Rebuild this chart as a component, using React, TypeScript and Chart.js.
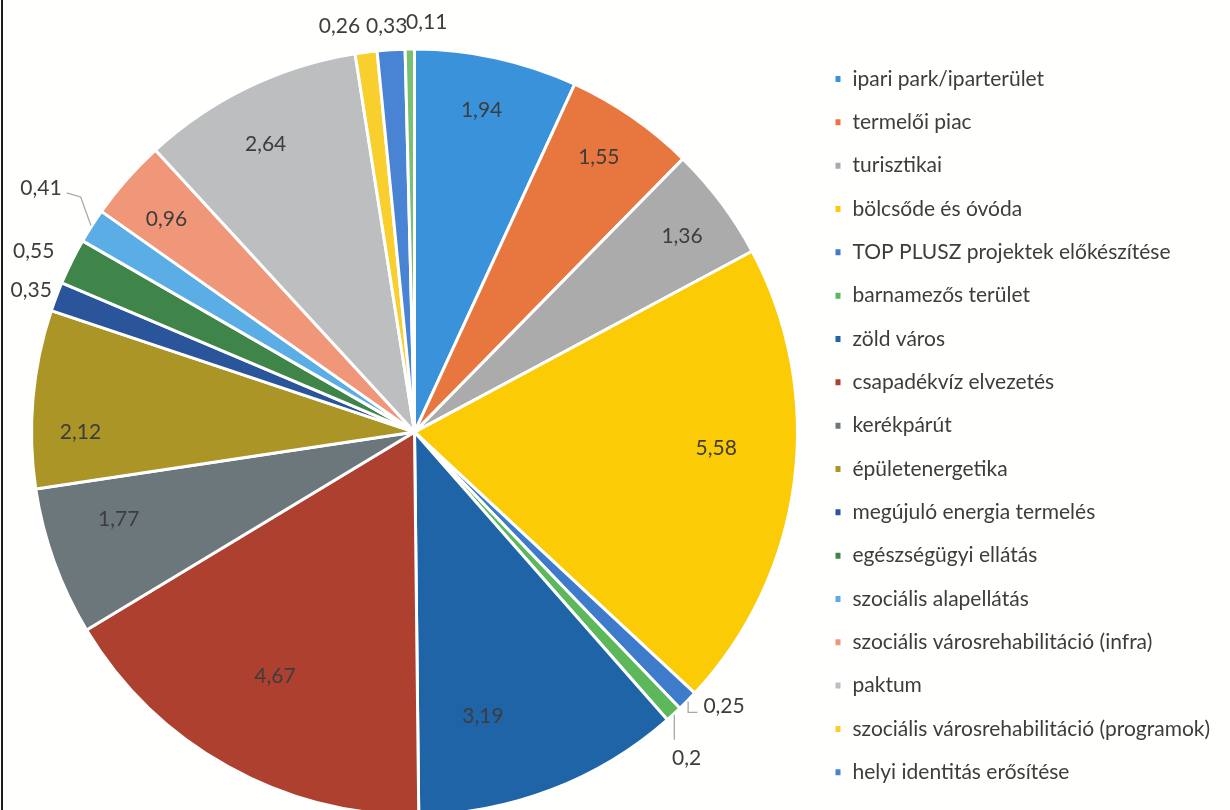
import React, { useEffect, useRef } from 'react';
import { Chart, registerables } from 'chart.js';

Chart.register(...registerables);

// ---------- data ----------
const categories: string[] = [
  'ipari park/iparterület',
  'termelői piac',
  'turisztikai',
  'bölcsőde és óvóda',
  'TOP PLUSZ projektek előkészítése',
  'barnamezős terület',
  'zöld város',
  'csapadékvíz elvezetés',
  'kerékpárút',
  'épületenergetika',
  'megújuló energia termelés',
  'egészségügyi ellátás',
  'szociális alapellátás',
  'szociális városrehabilitáció (infra)',
  'paktum',
  'szociális városrehabilitáció (programok)',
  'helyi identitás erősítése',
  'egyéb',
];

const values: number[] = [
  1.94, 1.55, 1.36, 5.58, 0.25, 0.2, 3.19, 4.67, 1.77, 2.12, 0.35, 0.55, 0.41, 0.96, 2.64, 0.26, 0.33, 0.11,
];

const colors: string[] = [
  '#3A93DA', '#E8773F', '#ABABAB', '#FBCB05', '#3F7BCB', '#5DB85C', '#1E64A6', '#AE4030', '#6C777C',
  '#AA9526', '#2B559A', '#3F8448', '#5AADE5', '#F0977A', '#BDBEC0', '#F9CF2E', '#4884D3', '#79C072',
];

// number of legend entries that fit on the page (the last one lies below the cropped edge)
const LEGEND_ITEMS = 17;

// ---------- label placement, relative to each slice (radius factor, angle shift in degrees) ----------
type Lay = { r: number; da: number; leader?: 'left' | 'right' | 'down' };
const labelLayout: Lay[] = [
  { r: 0.859, da: -0.6 },
  { r: 0.865, da: -0.8 },
  { r: 0.865, da: 0.7 },
  { r: 0.789, da: -4.4 },
  { r: 1.08, da: -3, leader: 'right' },
  { r: 1.108, da: 2.7, leader: 'down' },
  { r: 0.762, da: 7.4 },
  { r: 0.735, da: 0.6 },
  { r: 0.805, da: 3.4 },
  { r: 0.872, da: -5 },
  { r: 1.067, da: -0.4 },
  { r: 1.1, da: -1.1 },
  { r: 1.165, da: 0.6, leader: 'left' },
  { r: 0.853, da: -0.7 },
  { r: 0.846, da: -1.6 },
  { r: 1.078, da: -3.2 },
  { r: 1.063, da: -0.4 },
  { r: 1.071, da: 2.4 },
];

// ---------- layout constants ----------
const W = 1230;
const H = 818;
const PIE_CX = 414.5;
const PIE_RADIUS = 383;
const LEGEND_FONT = 21;
const LEGEND_PAD = 22.33;
const LEGEND_BOX_X = 834;
const LEGEND_BOX_W = 8;
const FIRST_LEGEND_CENTER = 79;
const LABEL_FONT = 21;
const FONT_FAMILY = 'Lato';
const TEXT_COLOR = '#3d3d3d';

const fmt = (v: number) => String(v).replace('.', ',');

const valueLabels = {
  id: 'valueLabels',
  afterDatasetsDraw(chart: any) {
    const { ctx } = chart;
    const meta = chart.getDatasetMeta(0);
    const data = chart.data.datasets[0].data as number[];
    ctx.save();
    ctx.font = `${LABEL_FONT}px ${FONT_FAMILY}`;
    ctx.textAlign = 'center';
    ctx.textBaseline = 'middle';
    meta.data.forEach((arc: any, i: number) => {
      const lay = labelLayout[i];
      if (!lay) return;
      const { x, y, startAngle, endAngle, outerRadius } = arc.getProps(
        ['x', 'y', 'startAngle', 'endAngle', 'outerRadius'],
        true
      );
      const mid = (startAngle + endAngle) / 2;
      const a = mid + (lay.da * Math.PI) / 180;
      const tx = x + Math.cos(a) * outerRadius * lay.r;
      const ty = y + Math.sin(a) * outerRadius * lay.r;
      const text = fmt(data[i]);
      const tw = ctx.measureText(text).width;
      if (lay.leader) {
        const ex = x + Math.cos(mid) * (outerRadius + 1);
        const ey = y + Math.sin(mid) * (outerRadius + 1);
        ctx.save();
        ctx.strokeStyle = '#A8A8A8';
        ctx.lineWidth = 1.3;
        ctx.beginPath();
        ctx.moveTo(ex, ey);
        if (lay.leader === 'left') {
          const p2x = tx + tw / 2 + 5;
          const p2y = ty + 5;
          ctx.lineTo(p2x + 14, p2y + 4);
          ctx.lineTo(p2x, p2y);
        } else if (lay.leader === 'right') {
          const p1y = ty + 6;
          ctx.lineTo(ex, p1y);
          ctx.lineTo(tx - tw / 2 - 6, p1y);
        } else {
          ctx.lineTo(ex, ty - 18);
        }
        ctx.stroke();
        ctx.restore();
      }
      ctx.fillStyle = TEXT_COLOR;
      ctx.fillText(text, tx, ty);
    });
    ctx.restore();
  },
};

export default function App() {
  const ref = useRef<HTMLCanvasElement>(null);

  useEffect(() => {
    const canvas = ref.current;
    if (!canvas) return;

    // measure legend text to position the legend column and pie precisely
    const mc = document.createElement('canvas').getContext('2d')!;
    mc.font = `${LEGEND_FONT}px ${FONT_FAMILY}`;
    const maxTextW = Math.max(...categories.slice(0, LEGEND_ITEMS).map((t) => mc.measureText(t).width));
    const naturalW = LEGEND_PAD + LEGEND_BOX_W + LEGEND_FONT / 2 + maxTextW + 10;
    const legendLeft = LEGEND_BOX_X - LEGEND_PAD;
    const targetW = W - legendLeft;
    const padR = Math.max(0, targetW - naturalW);
    const padL = 2 * PIE_CX - legendLeft;
    const padT = FIRST_LEGEND_CENTER - LEGEND_FONT / 2 - LEGEND_PAD;

    const chart = new Chart(canvas, {
      type: 'pie',
      data: {
        labels: categories,
        datasets: [
          {
            data: values,
            backgroundColor: colors,
            borderColor: '#ffffff',
            borderWidth: 3,
          },
        ],
      },
      options: {
        responsive: false,
        animation: false,
        devicePixelRatio: 1,
        radius: PIE_RADIUS,
        layout: { padding: { top: padT, left: padL, right: padR, bottom: 0 } },
        plugins: {
          legend: {
            position: 'right',
            align: 'start',
            maxWidth: targetW - padR,
            labels: {
              boxWidth: LEGEND_BOX_W,
              boxHeight: 9,
              padding: LEGEND_PAD,
              color: TEXT_COLOR,
              font: { family: FONT_FAMILY, size: LEGEND_FONT },
              filter: (item: any) => item.index < LEGEND_ITEMS,
            },
          },
          tooltip: { enabled: false },
        },
      } as any,
      plugins: [valueLabels],
    });

    return () => chart.destroy();
  }, []);

  return (
    <div
      style={{
        position: 'fixed',
        left: 0,
        top: 0,
        width: W,
        height: 810,
        overflow: 'hidden',
        background: '#fffffd',
      }}
    >
      <canvas ref={ref} width={W} height={H} style={{ position: 'absolute', left: 0, top: 0, display: 'block' }} />
      <div style={{ position: 'absolute', left: 1, top: 0, width: 2, height: 810, background: '#1c1c1c' }} />
    </div>
  );
}
